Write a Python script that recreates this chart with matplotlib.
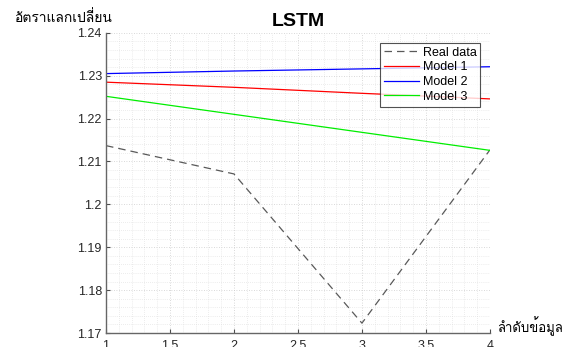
import matplotlib
matplotlib.use("Agg")
import matplotlib.pyplot as plt
from matplotlib import font_manager
from matplotlib.ft2font import FT2Font
from matplotlib.ticker import MultipleLocator

x = [1, 2, 3, 4]
real_data = [1.2137, 1.2071, 1.1723, 1.2127]
model1 = [1.2285, 1.2273, 1.2259, 1.2246]
model2 = [1.2305, 1.2311, 1.2316, 1.2321]
model3 = [1.2252, 1.2210, 1.2168, 1.2126]
title = "LSTM"
ylabel = "อัตราแลกเปลี่ยน"
xlabel = "ลำดับข้อมูล"
legend_labels = ["Real data", "Model 1", "Model 2", "Model 3"]

# find a font with Thai glyphs
thai_family = None
for f in font_manager.fontManager.ttflist:
    try:
        cm = FT2Font(f.fname).get_charmap()
        if 0x0E2D in cm and 0x0E33 in cm:
            thai_family = f.name
            break
    except Exception:
        pass
base = "Liberation Sans"
fams = [base, thai_family, "DejaVu Sans"] if thai_family else [base, "DejaVu Sans"]
thai_fams = [thai_family, "DejaVu Sans"] if thai_family else ["DejaVu Sans"]
plt.rcParams['font.family'] = fams

fig = plt.figure(figsize=(5.67, 3.47), dpi=100)
ax = fig.add_axes([0.187, 0.0403, 0.677, 0.865])

ax.plot(x, real_data, color=(0.35, 0.35, 0.35), lw=0.9, ls=(0, (6, 4)), label=legend_labels[0])
ax.plot(x, model1, color="#ff0000", lw=0.9, label=legend_labels[1])
ax.plot(x, model2, color="#0000ff", lw=0.9, label=legend_labels[2])
ax.plot(x, model3, color="#00ee00", lw=0.9, label=legend_labels[3])

ax.set_xlim(1, 4)
ax.set_ylim(1.17, 1.24)
ax.xaxis.set_major_locator(MultipleLocator(0.5))
ax.xaxis.set_minor_locator(MultipleLocator(0.1))
ax.yaxis.set_major_locator(MultipleLocator(0.01))
ax.yaxis.set_minor_locator(MultipleLocator(0.002))
ax.set_yticks([1.17, 1.18, 1.19, 1.20, 1.21, 1.22, 1.23, 1.24])
ax.set_yticklabels(["1.17", "1.18", "1.19", "1.2", "1.21", "1.22", "1.23", "1.24"])
ax.set_xticks([1, 1.5, 2, 2.5, 3, 3.5, 4])
ax.set_xticklabels(["1", "1.5", "2", "2.5", "3", "3.5", "4"])

ax.grid(which="major", color=(0.8, 0.8, 0.8), ls=(0, (1, 2)), lw=0.6)
ax.grid(which="minor", color=(0.86, 0.86, 0.86), ls=(0, (1, 2)), lw=0.5)
ax.set_axisbelow(True)
for s in ["top", "right"]:
    ax.spines[s].set_visible(False)
for s in ["left", "bottom"]:
    ax.spines[s].set_color((0.4, 0.4, 0.4))
    ax.spines[s].set_linewidth(1.0)
ax.tick_params(which="major", direction="in", length=3, color=(0.3, 0.3, 0.3),
               labelsize=9, labelcolor=(0.15, 0.15, 0.15), pad=3)
ax.tick_params(axis="x", which="major", pad=5)
ax.tick_params(which="minor", length=0)

ax.set_title(title, fontsize=14, fontweight="bold", pad=5)
fig.text(0.027, 0.95, ylabel, fontsize=10, family=thai_fams, ha="left", va="center")
fig.text(0.876, 0.06, xlabel, fontsize=9.5, family=thai_fams, ha="left", va="center")

leg = ax.legend(loc="upper right", bbox_to_anchor=(0.975, 0.967), fontsize=9,
                frameon=True, fancybox=False, edgecolor=(0.15, 0.15, 0.15),
                handlelength=2.8, handletextpad=0.3, borderpad=0.3, labelspacing=0.22,
                borderaxespad=0)
leg.get_frame().set_linewidth(0.8)

fig.savefig("out.png", dpi=100)
